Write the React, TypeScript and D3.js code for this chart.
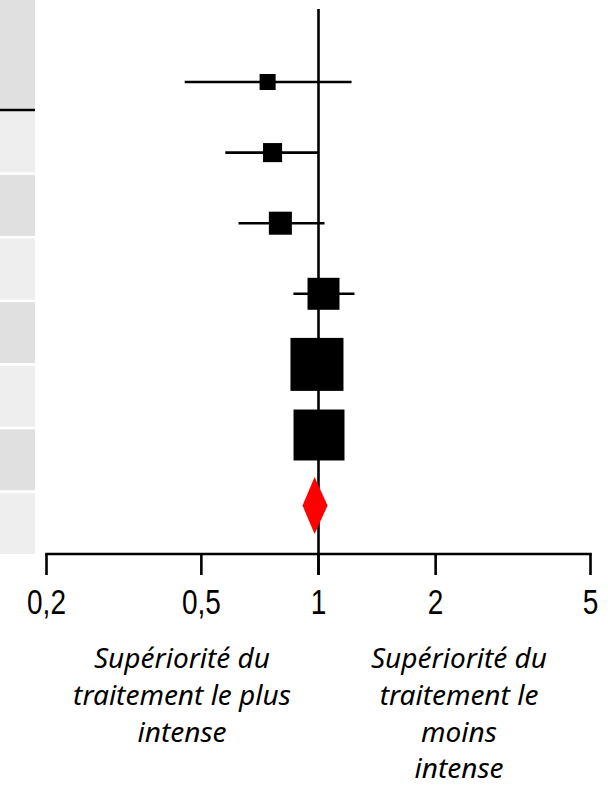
import React from "react";
import * as d3 from "d3";

// Study estimates (odds/risk ratios)
const studyIds = ["s1", "s2", "s3", "s4", "s5", "s6"];
const estimates = [0.74, 0.762, 0.798, 1.03, 0.991, 1.003];
const lowerCI = [0.453, 0.576, 0.623, 0.862, 0.93, 0.94];
const upperCI = [1.216, 1.0, 1.036, 1.237, 1.06, 1.07];
const weights = [3.4, 4.8, 7.0, 13.5, 37.1, 34.3];

// Pooled estimate
const pooledEstimate = 0.977;
const pooledLower = 0.91;
const pooledUpper = 1.055;

// Axis
const tickValues = [0.2, 0.5, 1, 2, 5];
const tickLabels = ["0,2", "0,5", "1", "2", "5"];

const leftNote = ["Supériorité du", "traitement le plus", "intense"];
const rightNote = ["Supériorité du", "traitement le", "moins", "intense"];

const W = 608;
const H = 785;

export default function App() {
  const x = d3.scaleLog().domain([0.2, 5]).range([46.5, 590.5]);
  const rowKeys = [...studyIds, "pooled"];
  const y = d3.scalePoint<string>().domain(rowKeys).range([82, 505.6]);
  const side = d3.scaleSqrt().domain([0, 37.1]).range([0, 53]);

  const axisY = 554;
  const tickLen = 21;
  const lw = 2.6;

  // background table bands (decorative)
  const bands: { y0: number; y1: number; fill: string }[] = [];
  bands.push({ y0: 0, y1: 109, fill: "#e0e0e0" });
  for (let i = 0; i < 7; i++) {
    const y0 = 111.3 + i * 63.6;
    bands.push({ y0, y1: y0 + 61, fill: i % 2 === 0 ? "#eeeeee" : "#e0e0e0" });
  }

  const pooledY = y("pooled")!;
  const diamondHalfH = 28.5;
  const diamond = [
    [x(pooledLower), pooledY],
    [x(pooledEstimate), pooledY - diamondHalfH],
    [x(pooledUpper), pooledY],
    [x(pooledEstimate), pooledY + diamondHalfH],
  ];

  const noteFont = "'Noto Sans', sans-serif";
  const noteSize = 28;
  const lineH = 36.8;

  return (
    <svg
      width={W}
      height={H}
      style={{ position: "absolute", left: 0, top: 0, background: "#fff" }}
    >
      {bands.map((b, i) => (
        <rect key={i} x={0} y={b.y0} width={35} height={b.y1 - b.y0} fill={b.fill} />
      ))}
      <line x1={0} x2={35} y1={110} y2={110} stroke="#000" strokeWidth={2.7} />

      {/* reference line at 1 */}
      <line x1={x(1)} x2={x(1)} y1={9} y2={axisY + tickLen} stroke="#000" strokeWidth={lw} />

      {/* confidence intervals */}
      {studyIds.map((id, i) => (
        <line
          key={"ci" + id}
          x1={x(lowerCI[i])}
          x2={x(upperCI[i])}
          y1={y(id)!}
          y2={y(id)!}
          stroke="#000"
          strokeWidth={lw}
        />
      ))}
      {/* squares */}
      {studyIds.map((id, i) => {
        const s = side(weights[i]);
        return (
          <rect
            key={"sq" + id}
            x={x(estimates[i]) - s / 2}
            y={y(id)! - s / 2}
            width={s}
            height={s}
            fill="#000"
          />
        );
      })}
      {/* pooled diamond */}
      <polygon points={diamond.map((p) => p.join(",")).join(" ")} fill="#ff0000" />

      {/* axis */}
      <line x1={x(0.2)} x2={x(5)} y1={axisY} y2={axisY} stroke="#000" strokeWidth={lw} strokeLinecap="square" />
      {tickValues.map((t, i) => (
        <g key={"t" + t}>
          <line x1={x(t)} x2={x(t)} y1={axisY} y2={axisY + tickLen} stroke="#000" strokeWidth={lw} />
          <text
            transform={`translate(${x(t)},614) scale(0.8,1)`}
            textAnchor="middle"
            fontFamily="'Liberation Sans', Arial, sans-serif"
            fontSize={35}
            fill="#000"
          >
            {tickLabels[i]}
          </text>
        </g>
      ))}

      {/* notes */}
      <text textAnchor="middle" fontFamily={noteFont} fontStyle="italic" fontSize={noteSize} fill="#000">
        {leftNote.map((l, i) => (
          <tspan key={i} x={182} y={668 + i * lineH}>
            {l}
          </tspan>
        ))}
      </text>
      <text textAnchor="middle" fontFamily={noteFont} fontStyle="italic" fontSize={noteSize} fill="#000">
        {rightNote.map((l, i) => (
          <tspan key={i} x={459} y={668 + i * lineH}>
            {l}
          </tspan>
        ))}
      </text>
    </svg>
  );
}
